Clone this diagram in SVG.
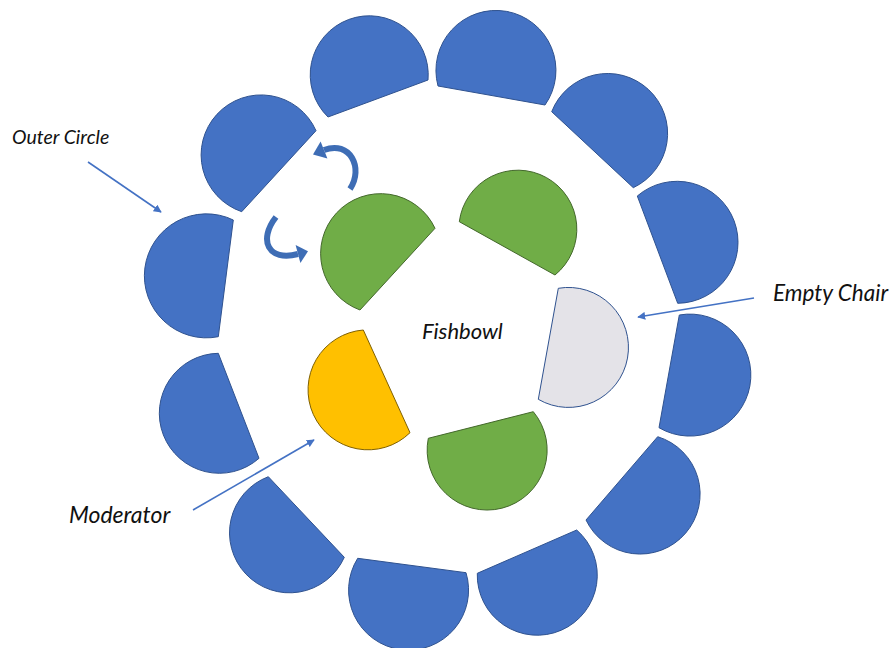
<svg xmlns="http://www.w3.org/2000/svg" width="890" height="648" viewBox="0 0 890 648">
<style>
.blue{fill:#4472C4;stroke:#2F528F;stroke-width:1}
.green{fill:#70AD47;stroke:#43682B;stroke-width:1}
.yellow{fill:#FFC000;stroke:#7F6000;stroke-width:1}
.gray{fill:#E4E3E8;stroke:#2F528F;stroke-width:1}
.lbl{font-family:Lato,"Liberation Sans",sans-serif;font-style:italic;fill:#111}
.ptr{stroke:#4472C4;stroke-width:1.6;fill:none;marker-end:url(#ah)}
.curve{stroke:#3E6DB5;stroke-width:6;fill:none}
.head{fill:#3E6DB5}
</style>
<defs>
<marker id="ah" viewBox="0 0 10 10" refX="9" refY="5" markerWidth="5" markerHeight="5" orient="auto" markerUnits="strokeWidth">
<path d="M0,0 L10,5 L0,10 Z" fill="#4472C4"/>
</marker>
</defs>
<rect width="890" height="648" fill="#fff"/>
<g id="outer-circle">
<g id="b1"><path class="blue" d="M328,117 A59,59 0 1 1 428,80 Z"/></g>
<g id="b2"><path class="blue" d="M438,86 A60,60 0 1 1 545,105 Z"/></g>
<g id="b3"><path class="blue" d="M551.7,111.7 A60,60 0 1 1 633.3,187.7 Z"/></g>
<g id="b4"><path class="blue" d="M637.3,196 A61,61 0 1 1 677.7,303.3 Z"/></g>
<g id="b5"><path class="blue" d="M679.3,315 A61,61 0 1 1 659,427.7 Z"/></g>
<g id="b6"><path class="blue" d="M657.7,436.7 A60,60 0 1 1 586,520 Z"/></g>
<g id="b7"><path class="blue" d="M576.7,530 A60,60 0 1 1 477.3,573.3 Z"/></g>
<g id="b8"><path class="blue" d="M466,572.7 A60,60 0 1 1 357.7,558.3 Z"/></g>
<g id="b9"><path class="blue" d="M344.3,557.3 A60,60 0 1 1 268.3,476.7 Z"/></g>
<g id="b10"><path class="blue" d="M259,458.3 A60,60 0 1 1 218.3,353.3 Z"/></g>
<g id="b11"><path class="blue" d="M218.3,336.7 A62,62 0 1 1 233.3,220 Z"/></g>
<g id="b12"><path class="blue" d="M241.7,211.7 A60,60 0 1 1 316,130.7 Z"/></g>
</g>
<g id="fishbowl-chairs">
<g id="g1"><path class="green" d="M360,310 A60,60 0 1 1 435,228.3 Z"/></g>
<g id="g2"><path class="green" d="M459.3,221.7 A59,59 0 1 1 555,275 Z"/></g>
<g id="empty-chair"><path class="gray" d="M558.3,288.3 A60,60 0 1 1 538.3,399.3 Z"/></g>
<g id="moderator"><path class="yellow" d="M410,432.7 A60,60 0 1 1 363.3,330 Z"/></g>
<g id="g3"><path class="green" d="M533.3,411.7 A60,60 0 1 1 428.3,438.3 Z"/></g>
</g>
<g id="connectors">
<path class="curve" d="M350,189 C364,168 350,140 324,150"/>
<polygon class="head" points="313,154.5 320.6,141.4 327.4,158.6"/>
<path class="curve" d="M276,217 C258,240 268,262 298,254"/>
<polygon class="head" points="308,251.3 295.6,245 300.4,263"/>
<line class="ptr" x1="88" y1="162" x2="161" y2="212"/>
<line class="ptr" x1="754" y1="298" x2="638" y2="317"/>
<line class="ptr" x1="193" y1="510" x2="314" y2="440"/>
</g>
<g id="labels">
<text class="lbl" x="12" y="144" font-size="19.5">Outer Circle</text>
<text class="lbl" x="773" y="301" font-size="22.5">Empty Chair</text>
<text class="lbl" x="69" y="523" font-size="23">Moderator</text>
<text class="lbl" x="422" y="339" font-size="22">Fishbowl</text>
</g>
</svg>
